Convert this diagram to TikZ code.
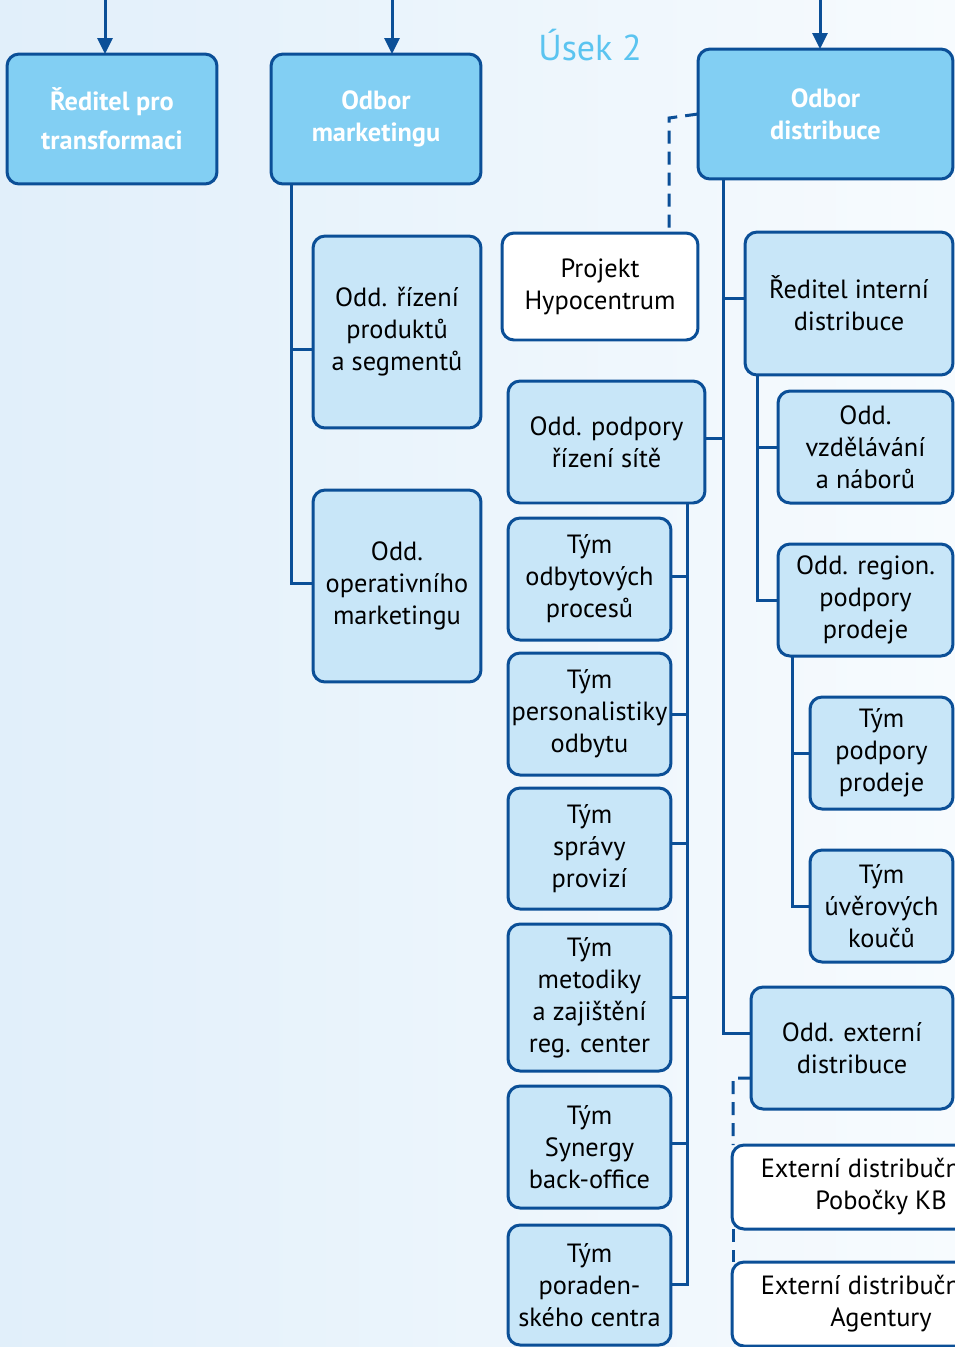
\documentclass[tikz,border=0pt]{standalone}
\usepackage{fontspec}
\setmainfont{PT Sans}
\usepackage{tikz}
\usetikzlibrary{positioning}
\usetikzlibrary{arrows.meta}

\definecolor{KBdark}{HTML}{0B4F97}
\definecolor{KBhead}{HTML}{82CFF3}
\definecolor{KBsub}{HTML}{C8E6F8}
\definecolor{KBtitle}{HTML}{5BC4F0}
\definecolor{bgLeft}{HTML}{E1EFFA}
\definecolor{bgRight}{HTML}{F7FBFE}

\tikzset{
	orgbase/.style={draw=KBdark, line width=0.06cm, rounded corners=0.24cm,
		align=center, inner sep=2pt, outer sep=0pt,
		font=\fontsize{15}{18.2}\selectfont},
	headbox/.style={orgbase, fill=KBhead, text=white,
		font=\bfseries\fontsize{15}{18.2}\selectfont},
	deptbox/.style={orgbase, fill=KBsub},
	projbox/.style={orgbase, fill=white},
	branch/.style={draw=KBdark, line width=0.06cm},
	dashbranch/.style={branch, dash pattern=on 0.26cm off 0.16cm},
	toparrow/.style={branch, -{Triangle[length=0.32cm,width=0.30cm]}},
}

\begin{document}
\begin{tikzpicture}[x=0.02cm, y=-0.02cm]
	
	% ---------------------
	% Canvas
	\useasboundingbox (0,0) rectangle (955,1347);
	\clip (0,0) rectangle (955,1347);
	\shade[left color=bgLeft, right color=bgRight] (0,0) rectangle (955,1347);
	
	\node[text=KBtitle, font=\fontsize{20.5}{24}\selectfont] (title) at (590,45) {Úsek 2};
	
	% ---------------------
	% Top level
	\node[headbox, minimum width=4.20cm, minimum height=2.60cm] (trans) at (112,119) {Ředitel pro\\[4pt]transformaci};
	\node[headbox, minimum width=4.20cm, minimum height=2.60cm] (mkt) at (376,119) {Odbor\\marketingu};
	\node[headbox, minimum width=5.10cm, minimum height=2.60cm] (dist) at (825.5,114) {Odbor\\distribuce};
	
	% ---------------------
	% Marketing
	\node[deptbox, minimum width=3.36cm, minimum height=3.84cm] (prod) at (397,332) {Odd. řízení\\produktů\\a segmentů};
	\node[deptbox, minimum width=3.36cm, minimum height=3.84cm] (oper) at (397,586) {Odd.\\operativního\\marketingu};
	
	% ---------------------
	% Distribution
	\node[projbox, minimum width=3.92cm, minimum height=2.14cm] (hypo) at (600,286.5) {Projekt\\Hypocentrum};
	\node[deptbox, minimum width=4.16cm, minimum height=2.86cm] (rid) at (849,303.5) {Ředitel interní\\distribuce};
	\node[deptbox, minimum width=3.94cm, minimum height=2.44cm] (sit) at (606.5,442) {Odd. podpory\\řízení sítě};
	
	\node[deptbox, minimum width=3.26cm, minimum height=2.44cm] (t1) at (589.5,579) {Tým\\odbytových\\procesů};
	\node[deptbox, minimum width=3.26cm, minimum height=2.44cm] (t2) at (589.5,714) {Tým\\personalistiky\\odbytu};
	\node[deptbox, minimum width=3.26cm, minimum height=2.42cm] (t3) at (589.5,848.5) {Tým\\správy\\provizí};
	\node[deptbox, minimum width=3.26cm, minimum height=2.94cm] (t4) at (589.5,997.5) {Tým\\metodiky\\a zajištění\\reg. center};
	\node[deptbox, minimum width=3.26cm, minimum height=2.44cm] (t5) at (589.5,1147) {Tým\\Synergy\\back-office};
	\node[deptbox, minimum width=3.26cm, minimum height=2.40cm] (t6) at (589.5,1285) {Tým\\poraden-\\ského centra};
	
	\node[deptbox, minimum width=3.50cm, minimum height=2.24cm] (vzd) at (865.5,447) {Odd.\\vzdělávání\\a náborů};
	\node[deptbox, minimum width=3.50cm, minimum height=2.24cm] (reg) at (865.5,600) {Odd. region.\\podpory\\prodeje};
	\node[deptbox, minimum width=2.86cm, minimum height=2.24cm] (tpp) at (881.5,753) {Tým\\podpory\\prodeje};
	\node[deptbox, minimum width=2.86cm, minimum height=2.24cm] (tuk) at (881.5,906) {Tým\\úvěrových\\koučů};
	
	\node[deptbox, minimum width=4.04cm, minimum height=2.44cm] (ext) at (852,1048) {Odd. externí\\distribuce};
	\node[projbox, minimum width=5.96cm, minimum height=1.68cm] (kb) at (881,1187) {Externí distribuční síť\\Pobočky KB};
	\node[projbox, minimum width=5.96cm, minimum height=1.68cm] (ag) at (881,1304) {Externí distribuční síť\\Agentury};
	
	% ------------------------------------------------
	% Arrows from above
	\path (trans.north) +(-7,-54) coordinate (transIn);
	\path (mkt.north) +(16,-54) coordinate (mktIn);
	\path (dist.north) +(-5.5,-49) coordinate (distIn);
	\draw[toparrow] (transIn) -- (transIn |- trans.north);
	\draw[toparrow] (mktIn) -- (mktIn |- mkt.north);
	\draw[toparrow] (distIn) -- (distIn |- dist.north);
	
	% ------------------------------------------------
	% Bus lines
	\path (mkt.south) +(-85,0) coordinate (mktBus);
	\path (dist.south) +(-102.5,0) coordinate (distBus);
	\path (sit.south) +(80.5,0) coordinate (sitBus);
	\path (rid.south) +(-92,0) coordinate (ridBus);
	\path (reg.south) +(-73.5,0) coordinate (regBus);
	
	\draw[branch] (mktBus) |- ([yshift=-0.34cm]prod.west);
	\draw[branch] (mktBus) |- ([yshift=0.06cm]oper.west);
	
	\draw[branch] (distBus) |- ([yshift=0.11cm]rid.west);
	\draw[branch] (distBus) |- ([yshift=0.08cm]sit.east);
	\draw[branch] (distBus) |- ([yshift=0.30cm]ext.west);
	
	\foreach \team/\shift in {t1/0.06, t2/0, t3/0.11, t4/0, t5/0.08, t6/0.02}
		\draw[branch] (sitBus) |- ([yshift=\shift cm]\team.east);
	
	\draw[branch] (ridBus) |- (vzd.west);
	\draw[branch] (ridBus) |- (reg.west);
	\draw[branch] (regBus) |- (tpp.west);
	\draw[branch] (regBus) |- (tuk.west);
	
	% ------------------------------------------------
	% Dashed links
	\path (dist.west) +(-29,4) coordinate (hypoDash);
	\draw[dashbranch] (dist.west) -- (hypoDash) -- (hypoDash |- hypo.north);
	
	\path (ext.west) +(-18,30) coordinate (extDash);
	\draw[dashbranch] ([yshift=-0.60cm]ext.west) -- (extDash) -- (extDash |- kb.north);
	\draw[dashbranch] (extDash |- kb.south) -- (extDash |- ag.north);
	
\end{tikzpicture}
\end{document}
